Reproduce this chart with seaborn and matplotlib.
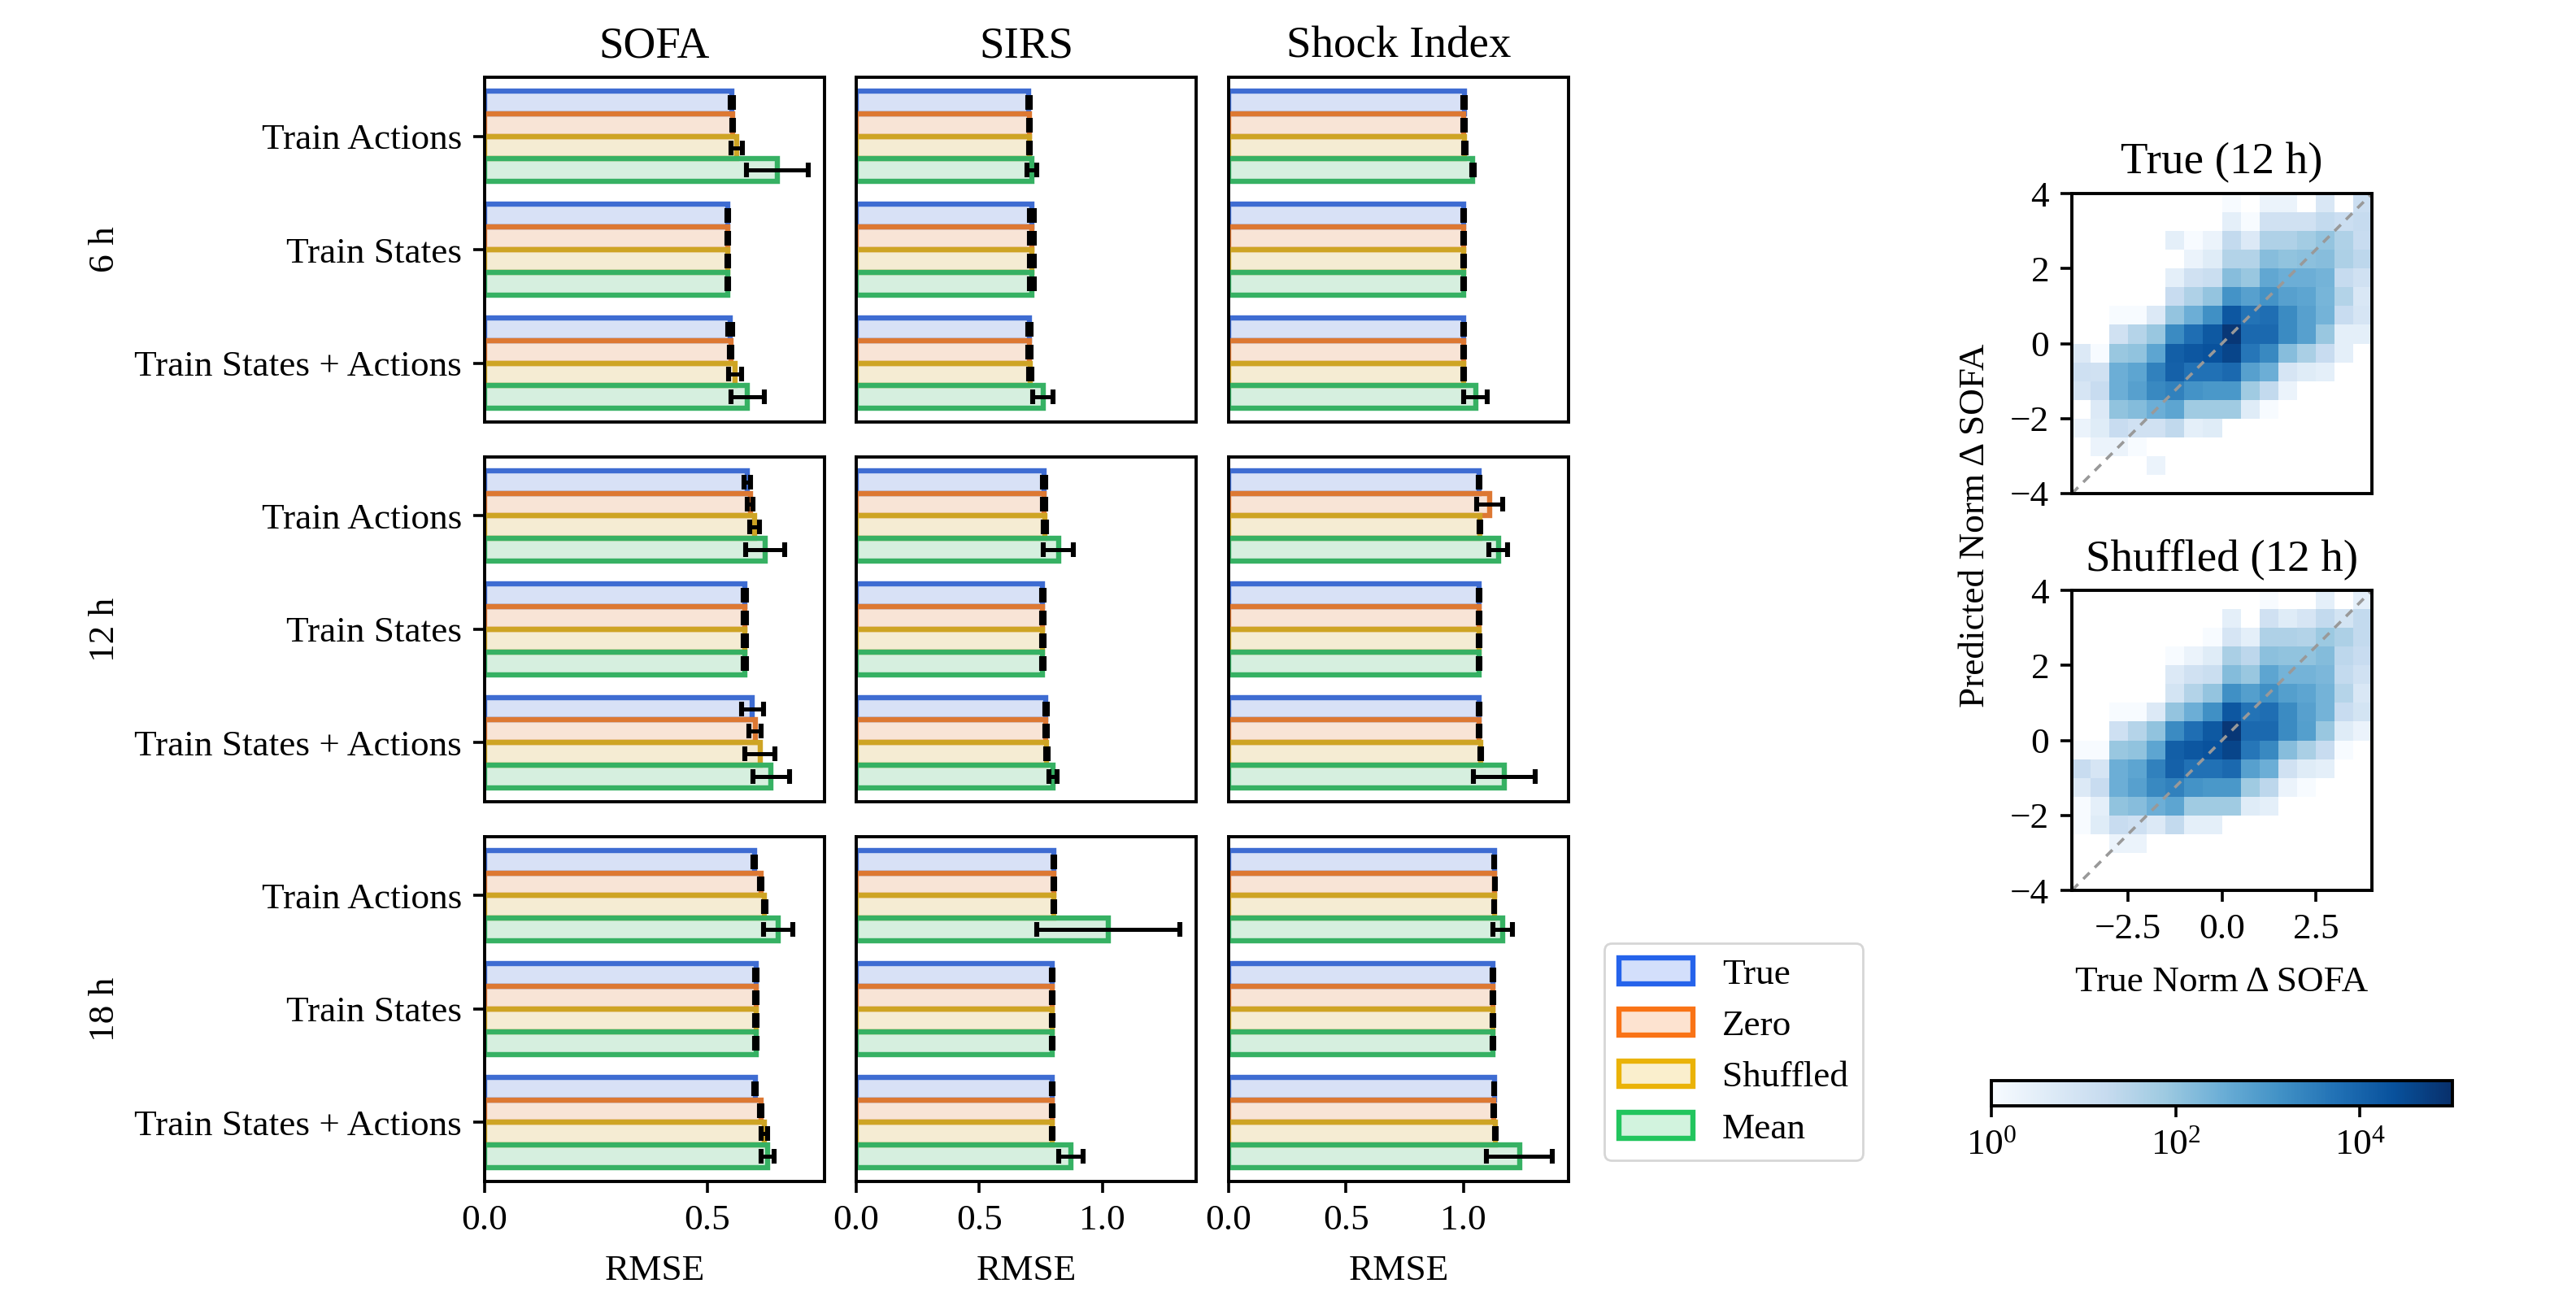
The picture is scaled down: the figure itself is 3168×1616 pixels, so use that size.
import numpy as np
import pandas as pd
import seaborn as sns
import matplotlib.pyplot as plt
from matplotlib.colors import LogNorm, to_rgb
from matplotlib.patches import Patch
from matplotlib.ticker import MultipleLocator, NullLocator

plt.rcParams['font.family'] = ['Liberation Serif', 'DejaVu Serif']
plt.rcParams['mathtext.fontset'] = 'stix'
plt.rcParams['font.size'] = 16.3
plt.rcParams['axes.linewidth'] = 1.4
plt.rcParams['xtick.major.width'] = 1.3
plt.rcParams['ytick.major.width'] = 1.3
plt.rcParams['xtick.major.size'] = 5
plt.rcParams['ytick.major.size'] = 5
plt.rcParams['xtick.major.pad'] = 5
plt.rcParams['ytick.major.pad'] = 5

# Data ########################################################################
metrics = ["SOFA", "SIRS", "Shock Index"]
horizons = ["6 h", "12 h", "18 h"]
conditions = ["Train Actions", "Train States", "Train States + Actions"]
baselines = ["True", "Zero", "Shuffled", "Mean"]
edge_colors = ["#2563eb", "#f97316", "#eab308", "#22c55e"]

# rmse[horizon][condition][baseline]
sofa_rmse = [
    [[0.555, 0.558, 0.567, 0.658], [0.546, 0.546, 0.546, 0.546], [0.552, 0.553, 0.563, 0.591]],
    [[0.590, 0.597, 0.606, 0.630], [0.585, 0.585, 0.585, 0.585], [0.602, 0.608, 0.619, 0.644]],
    [[0.606, 0.621, 0.629, 0.660], [0.610, 0.610, 0.610, 0.610], [0.608, 0.621, 0.629, 0.636]],
]
sofa_err = [
    [[0.004, 0.002, 0.013, 0.069], [0.002, 0.002, 0.002, 0.002], [0.005, 0.003, 0.015, 0.037]],
    [[0.007, 0.006, 0.011, 0.044], [0.003, 0.003, 0.003, 0.003], [0.025, 0.014, 0.034, 0.041]],
    [[0.003, 0.003, 0.003, 0.033], [0.003, 0.003, 0.003, 0.003], [0.003, 0.003, 0.007, 0.015]],
]
sirs_rmse = [
    [[0.702, 0.703, 0.703, 0.713], [0.713, 0.713, 0.713, 0.713], [0.704, 0.704, 0.706, 0.759]],
    [[0.764, 0.764, 0.767, 0.821], [0.758, 0.758, 0.758, 0.758], [0.770, 0.771, 0.774, 0.799]],
    [[0.804, 0.804, 0.804, 1.025], [0.795, 0.795, 0.795, 0.795], [0.797, 0.797, 0.797, 0.872]],
]
sirs_err = [
    [[0.004, 0.004, 0.004, 0.020], [0.009, 0.009, 0.009, 0.009], [0.006, 0.006, 0.006, 0.042]],
    [[0.006, 0.006, 0.006, 0.060], [0.004, 0.004, 0.004, 0.004], [0.005, 0.005, 0.005, 0.017]],
    [[0.003, 0.003, 0.003, 0.290], [0.003, 0.003, 0.003, 0.003], [0.003, 0.003, 0.003, 0.050]],
]
shock_rmse = [
    [[1.003, 1.002, 1.006, 1.040], [1.000, 1.000, 1.000, 1.000], [1.000, 1.000, 1.002, 1.052]],
    [[1.068, 1.112, 1.070, 1.149], [1.067, 1.067, 1.067, 1.067], [1.068, 1.068, 1.073, 1.174]],
    [[1.131, 1.134, 1.131, 1.168], [1.125, 1.125, 1.125, 1.125], [1.131, 1.128, 1.137, 1.239]],
]
shock_err = [
    [[0.006, 0.006, 0.006, 0.006], [0.003, 0.003, 0.003, 0.003], [0.003, 0.003, 0.003, 0.050]],
    [[0.003, 0.054, 0.003, 0.040], [0.004, 0.004, 0.004, 0.004], [0.003, 0.003, 0.003, 0.133]],
    [[0.003, 0.003, 0.003, 0.041], [0.003, 0.003, 0.003, 0.003], [0.003, 0.003, 0.003, 0.140]],
]
rmse_by_metric = [sofa_rmse, sirs_rmse, shock_rmse]
err_by_metric = [sofa_err, sirs_err, shock_err]

# 2d histogram counts, rows from top (y=4) to bottom (y=-4), cols x=-4..4, bins of 0.5
true_counts = [
    [0, 0, 0, 0, 0, 0, 0, 0, 1, 0, 2, 2, 0, 6, 0, 13],
    [0, 0, 0, 0, 0, 0, 0, 0, 3, 1, 10, 10, 10, 20, 13, 18],
    [0, 0, 0, 0, 0, 3, 1, 2, 20, 5, 40, 40, 63, 100, 40, 16],
    [0, 0, 0, 0, 0, 0, 2, 4, 35, 35, 141, 112, 126, 141, 45, 25],
    [0, 0, 0, 0, 0, 3, 10, 14, 141, 89, 447, 316, 316, 251, 18, 10],
    [0, 0, 0, 0, 0, 16, 40, 100, 1259, 631, 1259, 631, 501, 224, 35, 6],
    [0, 0, 1, 1, 5, 100, 316, 1413, 17783, 5012, 6310, 1778, 631, 251, 16, 7],
    [0, 0, 10, 32, 89, 1778, 6310, 15849, 70795, 7943, 7943, 1778, 631, 89, 3, 3],
    [5, 1, 89, 112, 501, 12589, 17783, 22387, 39811, 4467, 1995, 141, 50, 16, 3, 0],
    [11, 10, 316, 501, 2818, 11220, 5623, 5623, 7943, 631, 316, 7, 4, 3, 0, 0],
    [7, 16, 316, 631, 1995, 2818, 1259, 1000, 1000, 71, 20, 2, 0, 0, 0, 0],
    [0, 5, 112, 158, 316, 501, 71, 71, 71, 4, 1, 0, 0, 0, 0, 0],
    [2, 4, 16, 10, 10, 22, 3, 4, 0, 0, 0, 0, 0, 0, 0, 0],
    [0, 2, 2, 1, 0, 0, 0, 0, 0, 0, 0, 0, 0, 0, 0, 0],
    [0, 0, 0, 0, 2, 0, 0, 0, 0, 0, 0, 0, 0, 0, 0, 0],
    [0, 0, 0, 0, 0, 0, 0, 0, 0, 0, 0, 0, 0, 0, 0, 0],
]
shuffled_counts = [
    [0, 0, 0, 0, 0, 0, 0, 0, 0, 0, 1, 0, 0, 3, 0, 3],
    [0, 0, 0, 0, 0, 0, 0, 0, 3, 0, 10, 4, 7, 20, 8, 20],
    [0, 0, 0, 0, 0, 0, 0, 1, 7, 3, 40, 40, 35, 79, 45, 20],
    [0, 0, 0, 0, 0, 1, 2, 4, 50, 25, 126, 112, 112, 158, 25, 16],
    [0, 0, 0, 0, 0, 5, 10, 14, 158, 89, 501, 251, 251, 200, 20, 10],
    [0, 0, 0, 0, 0, 8, 35, 100, 1413, 708, 1413, 708, 501, 251, 32, 6],
    [0, 0, 1, 1, 5, 100, 316, 1413, 17783, 5012, 6310, 1778, 631, 251, 16, 8],
    [0, 0, 11, 32, 112, 1778, 6310, 15849, 70795, 7943, 7943, 1778, 708, 89, 4, 2],
    [1, 1, 89, 112, 501, 12589, 17783, 22387, 39811, 4467, 1995, 141, 50, 16, 1, 0],
    [16, 7, 316, 501, 2818, 11220, 5623, 5623, 7943, 631, 316, 10, 4, 3, 0, 0],
    [5, 16, 316, 631, 1995, 2818, 1259, 1000, 1000, 71, 25, 2, 1, 0, 0, 0],
    [1, 3, 112, 141, 316, 501, 71, 71, 71, 4, 3, 0, 0, 0, 0, 0],
    [1, 4, 16, 11, 5, 20, 3, 3, 0, 0, 0, 0, 0, 0, 0, 0],
    [0, 0, 2, 2, 0, 0, 0, 0, 0, 0, 0, 0, 0, 0, 0, 0],
    [0, 0, 0, 0, 0, 0, 0, 0, 0, 0, 0, 0, 0, 0, 0, 0],
    [0, 0, 0, 0, 0, 0, 0, 0, 0, 0, 0, 0, 0, 0, 0, 0],
]
bin_edges = np.linspace(-4, 4, 17)

# Figure ######################################################################
fig = plt.figure(figsize=(15.84, 8.08), dpi=200)

col_x = [0.1881, 0.3324, 0.4770]
row_y = [0.6788, 0.3899, 0.1009]
W, H = 0.1319, 0.2624

for j, metric in enumerate(metrics):
    top = None
    for i, hz in enumerate(horizons):
        ax = fig.add_axes([col_x[j], row_y[i], W, H], sharex=top)
        if top is None:
            top = ax
        rows = []
        for c, cond in enumerate(conditions):
            for b, base in enumerate(baselines):
                rows.append({"cond": cond, "baseline": base,
                             "rmse": rmse_by_metric[j][i][c][b],
                             "err": err_by_metric[j][i][c][b]})
        df = pd.DataFrame(rows)
        sns.barplot(data=df, x="rmse", y="cond", hue="baseline", order=conditions,
                    hue_order=baselines, palette=edge_colors, orient="h",
                    errorbar=None, legend=False, ax=ax)
        for p in ax.patches:
            rgb = to_rgb(p.get_facecolor())
            p.set_edgecolor(rgb)
            p.set_facecolor((*rgb, 0.2))
            p.set_linewidth(2.3)
            # error bar at the centre of the bar
            yc = p.get_y() + p.get_height() / 2
            ci = int(round(yc))
            bi = int(round((yc - ci + 0.3) / 0.2))
            ax.errorbar(p.get_width(), yc, xerr=err_by_metric[j][i][ci][bi], fmt="none",
                        ecolor="black", elinewidth=1.8, capsize=3.2, capthick=2.2, zorder=5)
        ax.set_ylim(2.52, -0.52)
        ax.xaxis.set_major_locator(MultipleLocator(0.5))
        if j == 0:
            ax.set_ylabel(hz, labelpad=6)
        else:
            ax.set_ylabel("")
            ax.tick_params(left=False, labelleft=False)
        if i == 0:
            ax.set_title(metric, fontsize=19.8, pad=9)
        if i == 2:
            ax.set_xlabel("RMSE", labelpad=8)
        else:
            ax.set_xlabel("")
            ax.tick_params(bottom=False, labelbottom=False)

# legend
handles = [Patch(facecolor=(*to_rgb(c), 0.2), edgecolor=c, linewidth=2.3, label=l)
           for c, l in zip(edge_colors, baselines)]
fig.legend(handles=handles, loc="upper left", bbox_to_anchor=(0.6228, 0.2822),
           borderaxespad=0.0)

# heatmaps
norm = LogNorm(vmin=1, vmax=1e5)
hm_y = [0.6244, 0.3224]
titles = ["True (12 h)", "Shuffled (12 h)"]
for k, counts in enumerate([true_counts, shuffled_counts]):
    ax = fig.add_axes([0.8043, hm_y[k], 0.1165, 0.2283])
    grid = np.ma.masked_equal(np.array(counts, dtype=float)[::-1], 0)
    mesh = ax.pcolormesh(bin_edges, bin_edges, grid, cmap="Blues", norm=norm)
    ax.axline((0, 0), slope=1, ls=(0, (3, 2.5)), color="0.6", lw=1.3)
    ax.set_xlim(-4, 4)
    ax.set_ylim(-4, 4)
    ax.xaxis.set_major_locator(MultipleLocator(2.5))
    ax.yaxis.set_major_locator(MultipleLocator(2))
    ax.set_title(titles[k], fontsize=19.8, pad=9)
    if k == 0:
        ax.tick_params(bottom=False, labelbottom=False)
    else:
        ax.set_xlabel("True Norm Δ SOFA", labelpad=9)

fig.text(0.7668, 0.6002, "Predicted Norm Δ SOFA", rotation=90, ha="center", va="center")

cax = fig.add_axes([0.7732, 0.1584, 0.1787, 0.0192])
cbar = fig.colorbar(mesh, cax=cax, orientation="horizontal")
cbar.set_ticks([1, 1e2, 1e4])
cbar.ax.xaxis.set_minor_locator(NullLocator())
cbar.outline.set_linewidth(1.4)

fig.savefig("out.png", dpi=200)
